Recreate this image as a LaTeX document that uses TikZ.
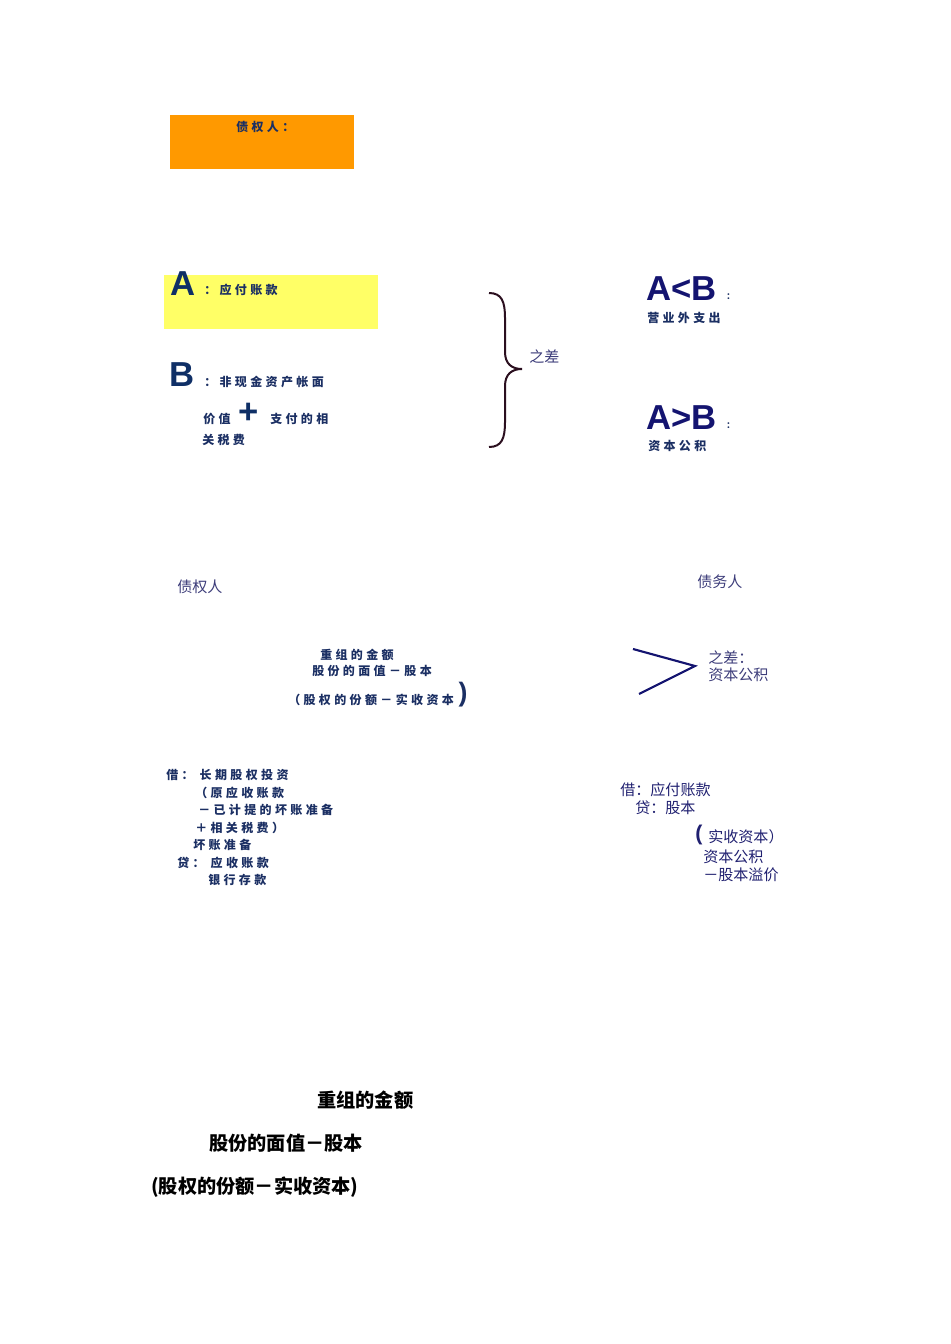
\documentclass[tikz,border=0pt]{standalone}
\usepackage{fontspec}
\newfontfamily\cjk{Noto Sans CJK SC}
\newfontfamily\cjkwide{Noto Sans CJK SC}[LetterSpace=28]
\newfontfamily\bigfont{Liberation Sans}
\definecolor{orangebox}{HTML}{FF9900}
\definecolor{yellowbox}{HTML}{FFFF66}
\definecolor{inkcallig}{HTML}{1B2F63}
\definecolor{inkbig}{HTML}{0F2F66}
\definecolor{inkcmp}{HTML}{141470}
\definecolor{inkplain}{HTML}{3D3D7A}
\definecolor{inkentry}{HTML}{202070}
\definecolor{inkbrace}{HTML}{2B0F1F}
\tikzset{
  callig/.style={font=\cjkwide\bfseries\fontsize{9}{10}\selectfont, text=inkcallig, inner sep=0pt, anchor=west},
  plain/.style={font=\cjk\fontsize{11.3}{13}\selectfont, text=inkplain, inner sep=0pt, anchor=west},
  entry/.style={font=\cjk\fontsize{11.3}{13}\selectfont, text=inkentry, inner sep=0pt, anchor=west},
  bigletter/.style={font=\bigfont\bfseries\fontsize{26}{28}\selectfont, inner sep=0pt},
  summary/.style={font=\cjk\bfseries\fontsize{14.4}{16}\selectfont, text=black, inner sep=0pt, anchor=west}
}
\begin{document}
\begin{tikzpicture}[x=0.75pt,y=-0.75pt]
\useasboundingbox (0,0) rectangle (950,1344);
    % coloured boxes
    \fill[orangebox] (170,115) rectangle (354,169);
    \node[callig] (creditor) at (236,127) {债权人：};
    \fill[yellowbox] (164,275) rectangle (378,329);
    % A and B
    \node[bigletter, text=inkbig] (A) at (183,284) {A};
    \node[callig] (Atext) at (204,290) {：应付账款};
    \node[bigletter, text=inkbig] (B) at (182,375) {B};
    \node[callig] (Btext) at (204,382) {：非现金资产帐面};
    \node[callig] (Bval) at (203,419) {价值};
    \node[bigletter, text=inkbig] (plus) at (249,413) {+};
    \node[callig] (Bpay) at (270,419) {支付的相};
    \node[callig] (Btax) at (202,440) {关税费};
    % brace
    \draw[inkbrace, line width=1.5pt] (489,293) .. controls (502,293) and (505,302) .. (505,318)
        -- (505,352) .. controls (505,364) and (512,369) .. (522,369)
        .. controls (512,369) and (505,374) .. (505,386)
        -- (505,422) .. controls (505,438) and (502,447) .. (489,447);
    \node[plain] (diff) at (529,357) {之差};
    % comparisons
    \node[bigletter, text=inkcmp, anchor=west] (AltB) at (646,289) {A<B};
    \node[callig, font=\cjk\bfseries\fontsize{6.5}{7}\selectfont] (AltBc) at (726,297) {：};
    \node[callig] (loss) at (647,318) {营业外支出};
    \node[bigletter, text=inkcmp, anchor=west] (AgtB) at (646,418) {A>B};
    \node[callig, font=\cjk\bfseries\fontsize{6.5}{7}\selectfont] (AgtBc) at (726,426) {：};
    \node[callig] (surplus) at (648,446) {资本公积};
    % debt to equity
    \node[plain] (cred2) at (177,587) {债权人};
    \node[plain] (debtor) at (697,582) {债务人};
    \node[callig] (amt) at (320,655) {重组的金额};
    \node[callig] (face) at (312,671) {股份的面值－股本};
    \node[callig] (share) at (288,700) {（股权的份额－实收资本};
    \node[bigletter, text=inkcallig, font=\bigfont\bfseries\fontsize{20}{22}\selectfont] (rpar) at (463,695) {)};
    \coordinate (gtA) at (633,649);
    \coordinate (gtTip) at (695,666);
    \coordinate (gtB) at (639,694);
    \draw[inkcmp, line width=1.6pt] (gtA) -- (gtTip) -- (gtB);
    \node[plain] (diff2) at (708,658) {之差：};
    \node[plain] (cap2) at (708,675) {资本公积};
    % creditor entries
    \foreach \x/\y/\t [count=\i] in {166/775/借：\ 长期股权投资, 195/793/（原应收账款,
        198/810/－已计提的坏账准备, 195/828/＋相关税费）, 193/845/坏账准备,
        177/863/贷：\ 应收账款, 208/880/银行存款} {
        \node[callig] (cr\i) at (\x,\y) {\t};
    }
    % debtor entries
    \node[entry] (dr1) at (620,790) {借：应付账款};
    \node[entry] (dr2) at (635,808) {贷：股本};
    \node[bigletter, text=inkentry, font=\bigfont\bfseries\fontsize{16}{18}\selectfont] (lpar) at (699,835) {(};
    \node[entry] (dr3) at (708,837) {实收资本）};
    \node[entry] (dr4) at (703,857) {资本公积};
    \node[entry] (dr5) at (703,875) {－股本溢价};
    % summary
    \node[summary] (sum1) at (317,1100) {重组的金额};
    \node[summary] (sum2) at (209,1143) {股份的面值－股本};
    \node[summary] (sum3) at (151,1187) {(股权的份额－实收资本)};
\end{tikzpicture}
\end{document}
